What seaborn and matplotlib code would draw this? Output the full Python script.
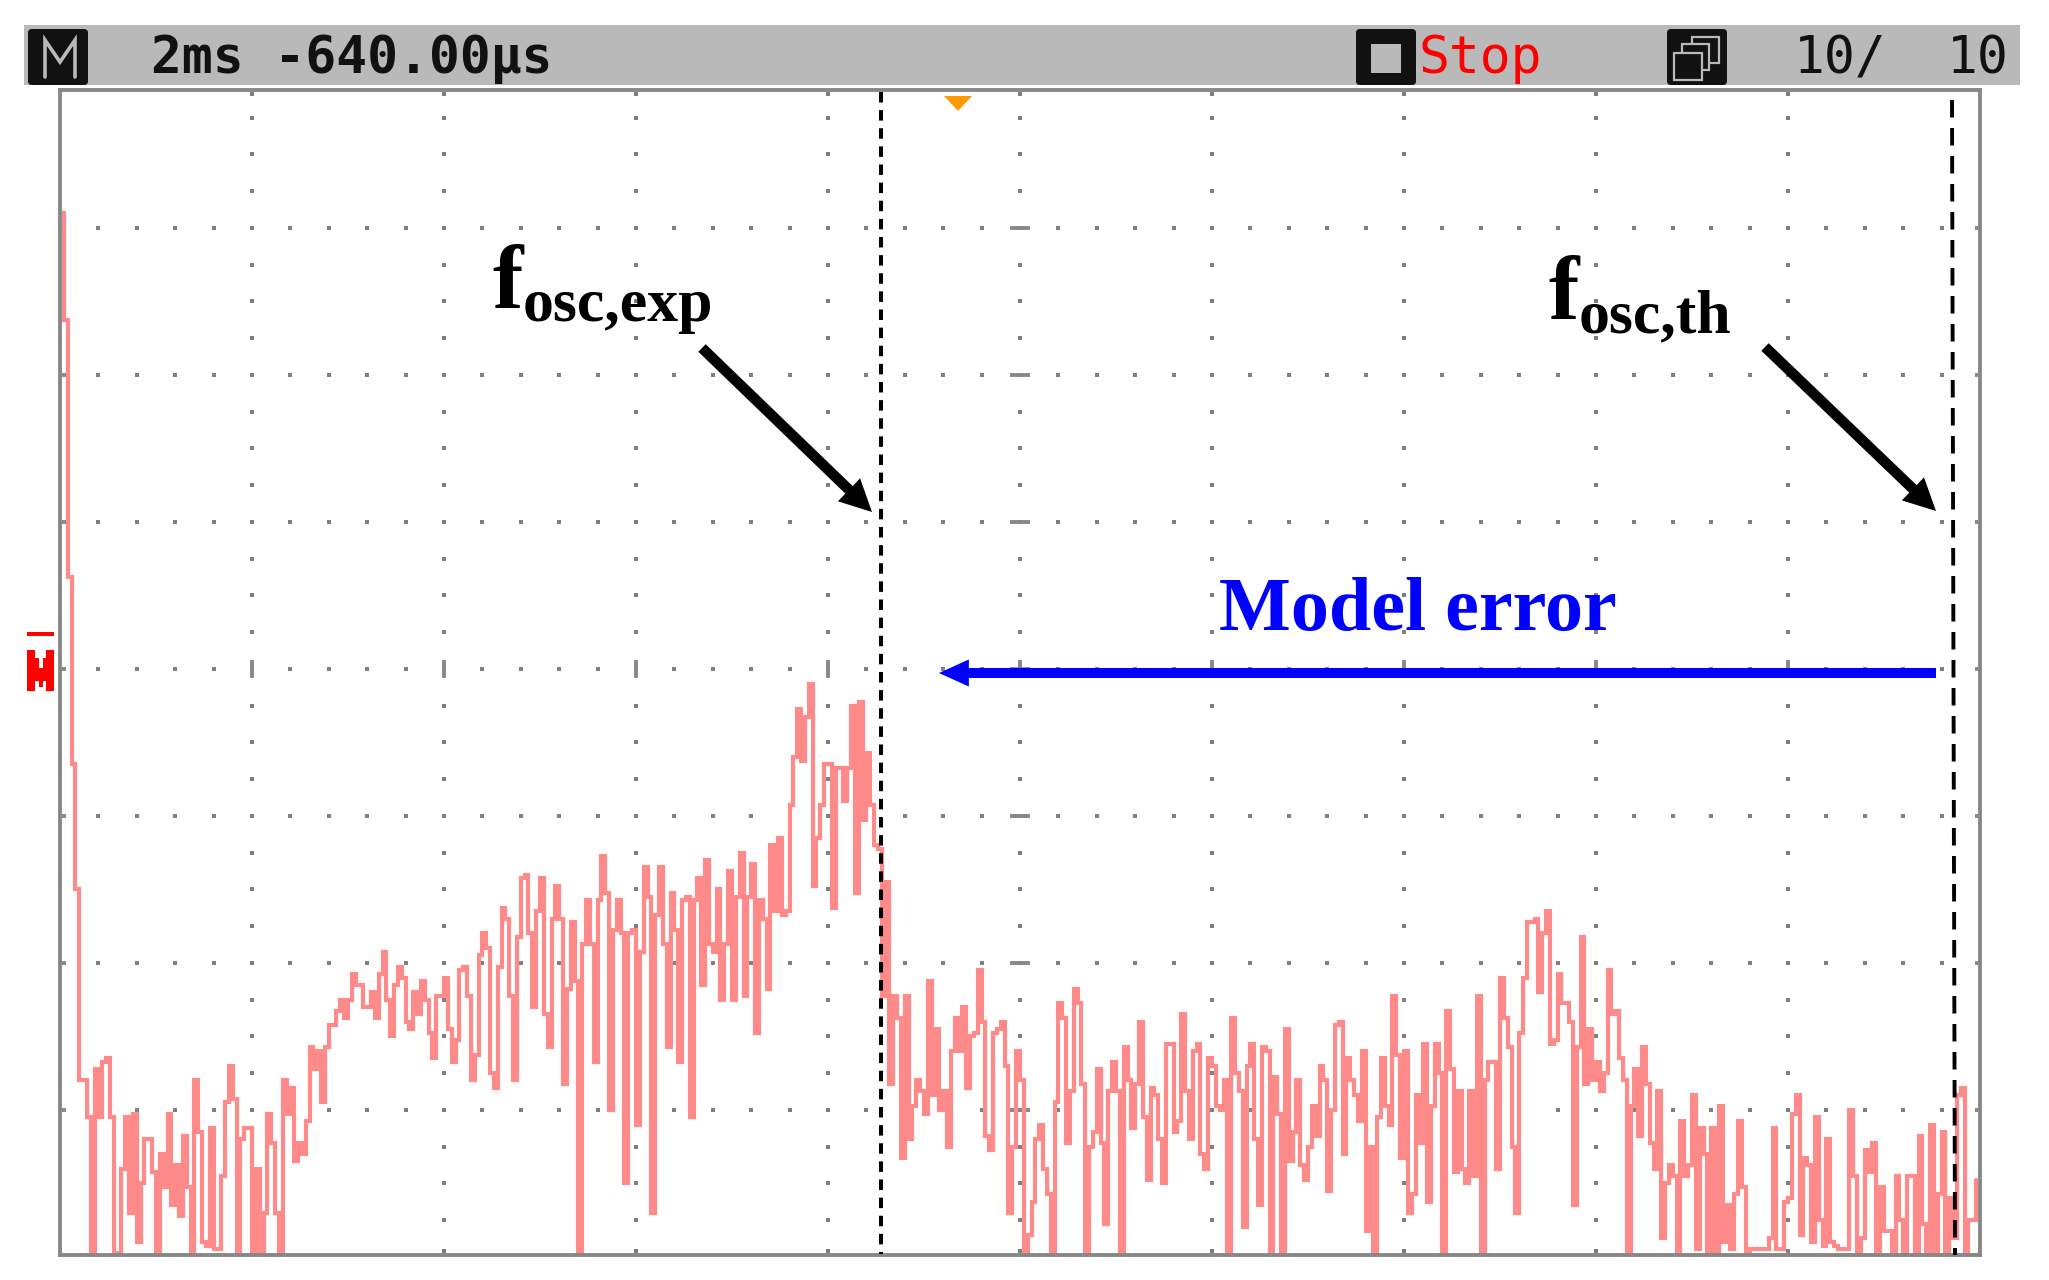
import numpy as np
import pandas as pd
import matplotlib
matplotlib.use('Agg')
import matplotlib.pyplot as plt
from matplotlib.patches import FancyBboxPatch, Rectangle
import seaborn as sns

# trace, one level per LCD column (40 counts = 1 div)
trace_part1 = [284,255,185,134,100,48,48,38,0,51,
               38,53,54,38,1,1,24,38,12,39,
               4,20,32,32,23,0,28,19,39,14,
               25,11,33,19,0,48,34,4,3,35,
               2,2,22,42,52,43,0,32,35,35,
               0,24,0,12,39,31,12,0,48,39,
               46,26,31,28,37,57,51,56,42,57,
               63,63,67,70,65,70,77,74,74,68,
               68,72,65,77,83,70,60,74,79,76,
               64,62,72,66,75,70,61,54,71,71,
               76,62,53,59,78,79,71,48,55,82,
               88,84,50,46,79,95,92,71,48,87,
               103,104,88,68,94]
trace_part2 = [103,66,57,92,101,92,47,73,91,75,
               0,85,97,85,53,97,109,99,40,89,
               97,88,20,88,89,36,83,106,98,12,
               93,106,85,57,99,89,53,97,98,38,
               97,103,74,108,85,83,100,70,85,105,
               70,98,110,71,98,107,61,97,92,73,
               112,94,114,93,94,123,136,149,135,147,
               156,101,114,123,134,134,95,133,133,124,
               133,150,99,151,119,137,123,112,111,71,
               102,47,71,65,27,71,32,41,48,45,
               39,75,44,62,40,45,30,56,65,56,
               68,46,60,61,78,64,33,29,61,62]
trace_part3 = [64,52,12,30,56,48,1,6,15,32,
               36,24,17,1,42,69,65,31,45,73,
               69,47,1,30,34,51,31,9,45,53,
               45,1,57,48,35,47,64,38,21,46,
               44,32,20,58,58,34,37,66,45,32,
               56,58,28,24,54,52,41,40,48,1,
               65,50,45,8,52,58,32,14,57,56,
               1,49,39,1,62,26,34,48,25,21,
               30,41,33,52,48,18,40,63,64,28,
               54,48,44,37,56,7,30,1,38,54,
               41,36,71,55,27,56,12,17,44,31,
               58,15,41,58,50,1,67,51,23,45,
               24,20,45,22,71,1,48,53,53,24]
trace_part4 = [76,65,57,30,12,61,76,91,91,92,
               72,88,94,58,59,77,69,69,64,14,
               57,87,47,62,48,53,45,50,78,66,
               67,54,48,1,41,51,33,57,47,31,
               24,45,5,20,25,22,1,37,22,25,
               44,2,35,28,1,35,1,41,4,14,
               2,17,37,19,1,2,2,2,2,2,
               5,35,2,2,15,16,39,44,6,27,
               25,4,38,10,3,32,4,3,2,2,
               2,40,22,1,5,29,23,31,1,19,
               7,7,1,22,10,1,22,22,1,33,
               9,1,36,1,17,34,1,16,5,44,
               46,1,10,10,21]

header_time = '2ms -640.00µs'
header_state = 'Stop'
header_avg = '10/'
header_avg_total = '10'
label_err = 'Model error'

W, H = 2049, 1280
sns.set_theme(style='white')
plt.rcParams['path.simplify'] = False
mono = 'DejaVu Sans Mono'
serif = 'Liberation Serif'
GREY = '#888888'

level = trace_part1 + trace_part2 + trace_part3 + trace_part4
df = pd.DataFrame({'col': np.arange(len(level)), 'level': level})

fig = plt.figure(figsize=(W / 100, H / 100), dpi=100, facecolor='white')
ax = fig.add_axes([60 / W, 1 - 1255 / H, 1920 / W, 1165 / H])

# graticule dots
h_dots = pd.DataFrame([(c, y) for y in range(40, 320, 40) for c in range(10, 500, 10)], columns=['c', 'y'])
v_dots = pd.DataFrame([(c, y) for c in range(50, 500, 50) for y in [1.5] + list(range(10, 320, 10)) + [316.5]], columns=['c', 'y'])
dots = pd.concat([h_dots, v_dots])
sns.scatterplot(data=dots, x='c', y='y', marker='s', s=9, color='#808080', linewidth=0, ax=ax, zorder=1)
ax.hlines(range(40, 320, 40), 0, 1.6, color=GREY, lw=2.8, zorder=1)
ax.hlines(range(40, 320, 40), 498.6, 500, color=GREY, lw=2.8, zorder=1)
ax.hlines(range(40, 320, 40), 247.5, 252.5, color=GREY, lw=2.8, zorder=1)
ax.vlines(range(50, 500, 50), 157.5, 162.5, color=GREY, lw=2.8, zorder=1)

sns.lineplot(data=df, x='col', y='level', drawstyle='steps-post', estimator=None, sort=False,
             color='#FF8A8A', linewidth=3.0, solid_joinstyle='miter', legend=False, ax=ax, zorder=2)

ax.set_xlim(0, 500)
ax.set_ylim(0.5, 317.5)
ax.set_xticks([])
ax.set_yticks([])
ax.set_xlabel('')
ax.set_ylabel('')
for sp in ax.spines.values():
    sp.set_visible(True)
    sp.set_color(GREY)
    sp.set_linewidth(2.8)

# overlay in pixel coordinates for the screen header and the hand annotations
ov = fig.add_axes([0, 0, 1, 1], zorder=5)
ov.set_xlim(0, W)
ov.set_ylim(H, 0)
ov.axis('off')
ov.patch.set_alpha(0)

ov.add_patch(Rectangle((23.5, 25), 1996.5, 60, color='#B9B9B9', lw=0))


def badge(x0, x1):
    ov.add_patch(FancyBboxPatch((x0 + 4, 33), x1 - x0 - 8, 48, boxstyle='round,pad=4', fc='#111111', ec='none'))


badge(28, 88)
ov.plot([45, 45, 60, 75, 75], [77, 40, 62, 40, 77], color='#B9B9B9', lw=2.6, solid_joinstyle='miter')
badge(1356, 1416)
ov.add_patch(Rectangle((1371, 44), 30, 29, color='#B9B9B9', lw=0))
badge(1667, 1727)
ov.add_patch(Rectangle((1692, 37), 27, 26, fc='#111111', ec='#B9B9B9', lw=1.6))
ov.add_patch(Rectangle((1682, 44), 27, 26, fc='#111111', ec='#B9B9B9', lw=1.6))
ov.add_patch(Rectangle((1674, 53), 28, 27, fc='#111111', ec='#B9B9B9', lw=1.6))

ov.text(151, 73, header_time, family=mono, weight='bold', fontsize=37, color='#111111', va='baseline', ha='left')
ov.text(1419, 73, header_state, family=mono, fontsize=37, color='#FF0000', va='baseline', ha='left')
ov.text(1794, 73, header_avg, family=mono, fontsize=37, color='#111111', va='baseline', ha='left')
ov.text(1947, 73, header_avg_total, family=mono, fontsize=37, color='#111111', va='baseline', ha='left')

# orange trigger marker
ov.fill([944, 972, 958], [96, 96, 111], color='#FF9900', lw=0)

# red ground marker
ov.add_patch(Rectangle((27, 632), 27, 4, color='#FF0000', lw=0))
ov.fill([27, 35, 35, 39, 39, 43, 43, 46, 46, 54, 54, 46, 46, 43, 43, 39, 39, 35, 35, 27],
        [650, 650, 658, 658, 668, 668, 658, 658, 650, 650, 691, 691, 681, 681, 687, 687, 681, 681, 691, 691],
        color='#FF0000', lw=0)

# frequency markers
ov.plot([881, 881], [92, 1254], color='black', lw=2.9, dashes=(2.6, 1.9))
ov.plot([1952, 1955], [100, 1255], color='black', lw=2.8, dashes=(4.5, 2.7))

# labels
ov.text(492, 308, 'f', family=serif, weight='bold', fontsize=66, color='black', va='baseline')
ov.text(523, 321, 'osc,exp', family=serif, weight='bold', fontsize=44.5, color='black', va='baseline')
ov.text(1548, 319, 'f', family=serif, weight='bold', fontsize=66, color='black', va='baseline')
ov.text(1579, 332, 'osc,th', family=serif, weight='bold', fontsize=44.5, color='black', va='baseline')
ov.text(1219, 630, label_err, family=serif, weight='bold', fontsize=54.8, color='#0000FF', va='baseline')

arrow = dict(width=7.6, headwidth=23, headlength=23, shrink=0, edgecolor='none')
ov.annotate('', xy=(872, 512), xytext=(702, 348), arrowprops=dict(arrow, facecolor='black'))
ov.annotate('', xy=(1936, 511), xytext=(1765, 347), arrowprops=dict(arrow, facecolor='black'))
ov.annotate('', xy=(939, 673), xytext=(1936, 673),
            arrowprops=dict(width=7.2, headwidth=19.5, headlength=21.5, shrink=0, edgecolor='none', facecolor='#0000FF'))

fig.savefig('out.png', dpi=100)
